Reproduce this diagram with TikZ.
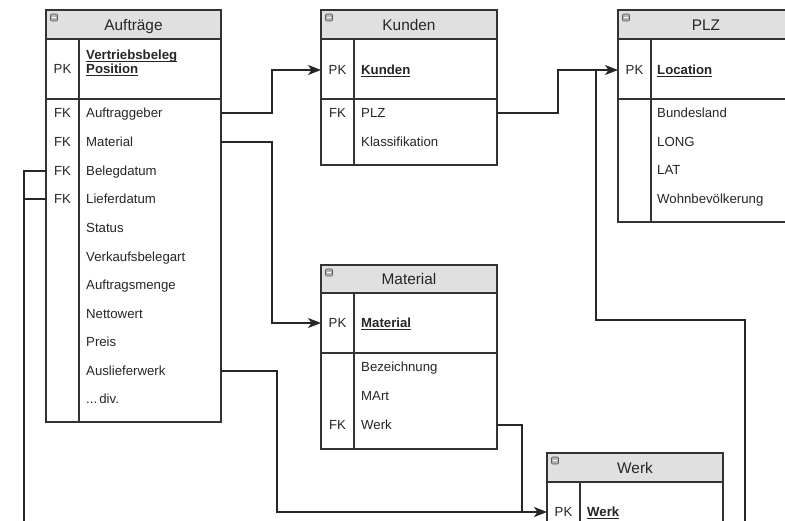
\documentclass[tikz,border=0pt]{standalone}
\usepackage{fontspec}
\setmainfont{Liberation Sans}
\usetikzlibrary{arrows.meta}
\definecolor{hdrgray}{HTML}{E0E0E0}
\definecolor{linegray}{HTML}{333333}
\tikzset{
  tbl/.style={draw=linegray, line width=1.2pt},
  ttl/.style={font=\fontsize{15.4}{18}\selectfont, text=black!85, inner sep=0pt, anchor=base},
  fld/.style={font=\fontsize{13.2}{15}\selectfont, text=black!85, anchor=base west, inner sep=0pt},
  keyf/.style={font=\fontsize{13.2}{15}\selectfont, text=black!85, anchor=base, inner sep=0pt},
  conn/.style={draw=black!85, line width=1.1pt},
  arr/.style={-{Stealth[length=13pt,width=10pt,inset=3.5pt]}},
  icon/.style={draw=gray!70!black, fill=gray!60, line width=0.6pt, rounded corners=1pt}
}
\newcommand{\pkul}[1]{\underline{\smash{\textbf{#1}}}}
% name, x1, x2, top, head, pk, bottom, divider x, title
\newcommand{\ertable}[9]{%
  \draw[tbl, fill=hdrgray] (#2,#4) rectangle (#3,#5);
  \node[ttl] (#1-title) at ({(#2+#3)/2},{(#4+#5)/2+6}) {#9};
  \draw[tbl] (#2,#5) rectangle (#3,#7);
  \draw[tbl] (#2,#6) -- (#3,#6);
  \draw[tbl] (#8,#5) -- (#8,#7);
  \draw[icon] ({#2+4.5},{#4+4}) rectangle ({#2+11.5},{#4+11});
  \draw[white, line width=1.2pt] ({#2+6},{#4+7.5}) -- ({#2+10},{#4+7.5});
}
% y positions given as row centers; baseline = center + 4.8
\newcommand{\bl}[1]{{#1+4.8}}
\begin{document}
\begin{tikzpicture}[x=1pt,y=-1pt]
\useasboundingbox (0,0) rectangle (785,521);
\clip (0,0) rectangle (785,521);
\fill[white] (0,0) rectangle (785,521);

% ---------------- Auftraege ----------------
\ertable{a}{46}{221}{10}{39}{99}{422}{79}{Aufträge}
\node[keyf] (a-pk) at (62.5,\bl{69}) {PK};
\node[fld] (a-pk1) at (86,\bl{55}) {\pkul{Vertriebsbeleg}};
\node[fld] (a-pk2) at (86,\bl{69}) {\pkul{Position}};
\node[keyf] (a-k1) at (62.5,\bl{113}) {FK};
\node[keyf] (a-k2) at (62.5,\bl{142}) {FK};
\node[keyf] (a-k3) at (62.5,\bl{171}) {FK};
\node[keyf] (a-k4) at (62.5,\bl{199}) {FK};
\node[fld] (a-f1) at (86,\bl{113}) {Auftraggeber};
\node[fld] (a-f2) at (86,\bl{142}) {Material};
\node[fld] (a-f3) at (86,\bl{171}) {Belegdatum};
\node[fld] (a-f4) at (86,\bl{199}) {Lieferdatum};
\node[fld] (a-f5) at (86,\bl{228}) {Status};
\node[fld] (a-f6) at (86,\bl{257}) {Verkaufsbelegart};
\node[fld] (a-f7) at (86,\bl{285}) {Auftragsmenge};
\node[fld] (a-f8) at (86,\bl{314}) {Nettowert};
\node[fld] (a-f9) at (86,\bl{342}) {Preis};
\node[fld] (a-f10) at (86,\bl{371}) {Auslieferwerk};
\node[fld] (a-f11) at (86,\bl{399}) {...\,div.};
\coordinate (a-e1) at (221,113);
\coordinate (a-e2) at (221,142);
\coordinate (a-w3) at (46,171);
\coordinate (a-w4) at (46,199);
\coordinate (a-e10) at (221,371);

% ---------------- Kunden ----------------
\ertable{k}{321}{497}{10}{39}{99}{165}{354}{Kunden}
\node[keyf] (k-pk) at (337.5,\bl{70}) {PK};
\node[fld] (k-pk1) at (361,\bl{70}) {\pkul{Kunden}};
\node[keyf] (k-k1) at (337.5,\bl{113}) {FK};
\node[fld] (k-f1) at (361,\bl{113}) {PLZ};
\node[fld] (k-f2) at (361,\bl{142}) {Klassifikation};
\coordinate (k-in) at (321,70);
\coordinate (k-e1) at (497,113);

% ---------------- PLZ ----------------
\ertable{p}{618}{794}{10}{39}{99}{222}{651}{PLZ}
\node[keyf] (p-pk) at (634.5,\bl{70}) {PK};
\node[fld] (p-pk1) at (657,\bl{70}) {\pkul{Location}};
\node[fld] (p-f1) at (657,\bl{113}) {Bundesland};
\node[fld] (p-f2) at (657,\bl{142}) {LONG};
\node[fld] (p-f3) at (657,\bl{170}) {LAT};
\node[fld] (p-f4) at (657,\bl{199}) {Wohnbevölkerung};
\coordinate (p-in) at (618,70);

% ---------------- Material ----------------
\ertable{m}{321}{497}{265}{293}{353}{449}{354}{Material}
\node[keyf] (m-pk) at (337.5,\bl{323}) {PK};
\node[fld] (m-pk1) at (361,\bl{323}) {\pkul{Material}};
\node[fld] (m-f1) at (361,\bl{367}) {Bezeichnung};
\node[fld] (m-f2) at (361,\bl{396}) {MArt};
\node[keyf] (m-k3) at (337.5,\bl{425}) {FK};
\node[fld] (m-f3) at (361,\bl{425}) {Werk};
\coordinate (m-in) at (321,323);
\coordinate (m-e3) at (497,425);

% ---------------- Werk ----------------
\ertable{w}{547}{723}{453}{482}{560}{600}{580}{Werk}
\node[keyf] (w-pk) at (563.5,\bl{512}) {PK};
\node[fld] (w-pk1) at (587,\bl{512}) {\pkul{Werk}};
\coordinate (w-in) at (547,512);

% ---------------- connectors ----------------
\coordinate (j-werk) at (522,512);
\coordinate (j-plz) at (596,70);
\coordinate (b-plz) at (596,320);
\coordinate (off-left) at (24,523);
\coordinate (off-right) at (745,523);

\draw[conn, arr] (a-e1) -- ++(51,0) |- (k-in);
\draw[conn, arr] (a-e2) -- ++(51,0) |- (m-in);
\draw[conn] (a-w3) -| (off-left);
\draw[conn] (a-w4) -- (off-left |- a-w4);
\draw[conn, arr] (a-e10) -- ++(56,0) |- (w-in);
\draw[conn] (m-e3) -| (j-werk);
\draw[conn, arr] (k-e1) -- ++(61,0) |- (p-in);
\draw[conn] (j-plz) -- (b-plz) -| (off-right);
\end{tikzpicture}
\end{document}
